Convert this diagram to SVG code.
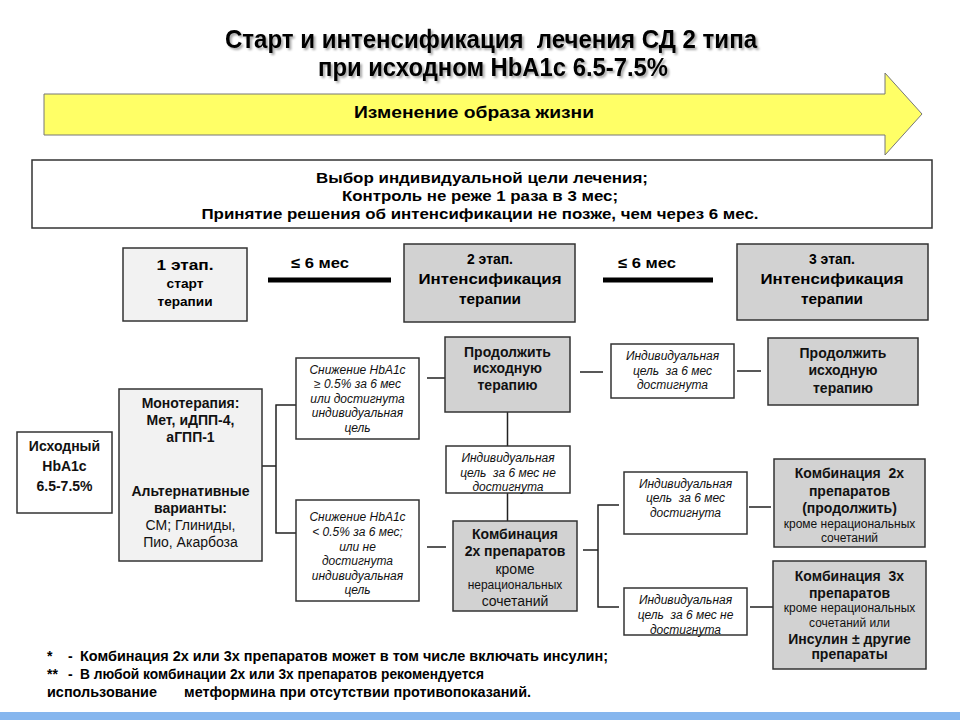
<svg xmlns="http://www.w3.org/2000/svg" width="960" height="720" viewBox="0 0 960 720">
<defs>
<filter id="sh" x="-5%" y="-20%" width="110%" height="150%">
<feDropShadow dx="2" dy="2" stdDeviation="1" flood-color="#000" flood-opacity="0.35"/>
</filter>
<style>
.n{font-family:"Liberation Sans Narrow","Liberation Sans",Arial,sans-serif;font-weight:bold;fill:#000;text-anchor:middle}
.f{font-family:"Liberation Sans",Arial,sans-serif;font-weight:bold;font-size:14px;fill:#000;text-anchor:start}
.b{font-family:"Liberation Sans",Arial,sans-serif;font-weight:bold;font-size:14px;fill:#111;text-anchor:middle}
.r{font-family:"Liberation Sans",Arial,sans-serif;font-size:14px;fill:#111;text-anchor:middle}
.s{font-family:"Liberation Sans",Arial,sans-serif;font-size:12px;fill:#111;text-anchor:middle}
.i{font-family:"Liberation Sans",Arial,sans-serif;font-style:italic;font-size:12px;fill:#111;text-anchor:middle}
.box{stroke:#333;stroke-width:1.5}
.w{fill:#fff}
.g{fill:#d2d2d2}
.l{fill:#f2f2f2}
.c{fill:none;stroke:#222;stroke-width:1.5}
.t{fill:none;stroke:#000;stroke-width:5}
</style>
</defs>
<rect width="960" height="720" fill="#fff"/>

<g id="title" filter="url(#sh)">
<text class="n" x="491" y="48" font-size="25" textLength="532" lengthAdjust="spacingAndGlyphs" xml:space="preserve">Старт и интенсификация  лечения СД 2 типа</text>
<text class="n" x="493" y="76" font-size="25" textLength="350" lengthAdjust="spacingAndGlyphs">при исходном HbA1c 6.5-7.5%</text>
</g>

<g id="lifestyle">
<polygon points="44,94 885,94 885,73 922,114 885,155 885,135 44,135" fill="#ffff66" stroke="#777" stroke-width="1"/>
<text class="n" x="474" y="118" font-size="16" textLength="240" lengthAdjust="spacingAndGlyphs">Изменение образа жизни</text>
</g>

<g id="goal">
<rect class="box w" x="32" y="160" width="900" height="68"/>
<text class="n" x="482" y="183" font-size="14" textLength="332" lengthAdjust="spacingAndGlyphs">Выбор индивидуальной цели лечения;</text>
<text class="n" x="480" y="201" font-size="14" textLength="276" lengthAdjust="spacingAndGlyphs">Контроль не реже 1 раза в 3 мес;</text>
<text class="n" x="480" y="219" font-size="14" textLength="557" lengthAdjust="spacingAndGlyphs">Принятие решения об интенсификации не позже, чем через 6 мес.</text>
</g>

<g id="stage1">
<rect class="box l" x="123" y="248" width="124" height="73"/>
<text class="n" x="185" y="270" font-size="15" textLength="57" lengthAdjust="spacingAndGlyphs">1 этап.</text>
<text class="n" x="185" y="288" font-size="13" textLength="37" lengthAdjust="spacingAndGlyphs">старт</text>
<text class="n" x="185" y="306" font-size="13" textLength="55" lengthAdjust="spacingAndGlyphs">терапии</text>
</g>

<g id="stage2">
<rect class="box g" x="404" y="244" width="171" height="78"/>
<text class="n" x="490" y="264" font-size="15" textLength="46" lengthAdjust="spacingAndGlyphs">2 этап.</text>
<text class="n" x="490" y="284" font-size="15" textLength="143" lengthAdjust="spacingAndGlyphs">Интенсификация</text>
<text class="n" x="490" y="304" font-size="15" textLength="62" lengthAdjust="spacingAndGlyphs">терапии</text>
</g>

<g id="stage3">
<rect class="box g" x="737" y="244" width="191" height="76"/>
<text class="n" x="832" y="264" font-size="15" textLength="46" lengthAdjust="spacingAndGlyphs">3 этап.</text>
<text class="n" x="832" y="284" font-size="15" textLength="143" lengthAdjust="spacingAndGlyphs">Интенсификация</text>
<text class="n" x="832" y="304" font-size="15" textLength="62" lengthAdjust="spacingAndGlyphs">терапии</text>
</g>

<g id="timing">
<text class="n" x="320" y="268" font-size="15" textLength="58" lengthAdjust="spacingAndGlyphs">≤ 6 мес</text>
<text class="n" x="647" y="268" font-size="15" textLength="58" lengthAdjust="spacingAndGlyphs">≤ 6 мес</text>
<line class="t" x1="268" y1="280" x2="391" y2="280"/>
<line class="t" x1="603" y1="280" x2="713" y2="280"/>
</g>

<g id="connectors">
<path class="c" d="M262,466 H276 M276,405 V533 M275.3,405 H296 M275.3,533 H296"/>
<path class="c" d="M427,378 H446 M427,547 H446"/>
<path class="c" d="M507.5,412 V446 M507.5,493 V521"/>
<path class="c" d="M583,550 H598 M598,505 V607 M597.3,505 H619 M597.3,607 H619"/>
<path class="c" d="M580,372 H603 M737,371 H761"/>
<path class="c" d="M749,507 H771 M750,607 H773"/>
</g>

<g id="baseline">
<rect class="box w" x="17" y="432" width="95" height="81"/>
<text class="b" x="64.5" y="451">Исходный</text>
<text class="b" x="64.5" y="471" font-size="17">HbA1c</text>
<text class="b" x="64.5" y="491" font-size="16">6.5-7.5%</text>
</g>

<g id="mono">
<rect class="box l" x="119" y="389" width="143" height="172"/>
<text class="b" x="190.5" y="408">Монотерапия:</text>
<text class="b" x="190.5" y="425">Мет, иДПП-4,</text>
<text class="b" x="190.5" y="442">аГПП-1</text>
<text class="b" x="190.5" y="496">Альтернативные</text>
<text class="b" x="190.5" y="513">варианты:</text>
<text class="r" x="190.5" y="530">СМ; Глиниды,</text>
<text class="r" x="190.5" y="547">Пио, Акарбоза</text>
</g>

<g id="dec-yes">
<rect class="box w" x="296" y="358" width="123" height="81"/>
<text class="i" x="357.5" y="374">Снижение HbA1c</text>
<text class="i" x="357.5" y="388">≥ 0.5% за 6 мес</text>
<text class="i" x="357.5" y="403">или достигнута</text>
<text class="i" x="357.5" y="417">индивидуальная</text>
<text class="i" x="357.5" y="432">цель</text>
</g>

<g id="dec-no">
<rect class="box w" x="296" y="500" width="123" height="101"/>
<text class="i" x="357.5" y="521">Снижение HbA1c</text>
<text class="i" x="357.5" y="536">&lt; 0.5% за 6 мес;</text>
<text class="i" x="357.5" y="551">или не</text>
<text class="i" x="357.5" y="565">достигнута</text>
<text class="i" x="357.5" y="580">индивидуальная</text>
<text class="i" x="357.5" y="594">цель</text>
</g>

<g id="continue1">
<rect class="box g" x="445" y="337" width="125" height="75"/>
<text class="b" x="507.5" y="357">Продолжить</text>
<text class="b" x="507.5" y="373">исходную</text>
<text class="b" x="507.5" y="390">терапию</text>
</g>

<g id="notreached1">
<rect class="box w" x="446" y="446" width="124" height="47"/>
<text class="i" x="508" y="462">Индивидуальная</text>
<text class="i" x="508" y="477" xml:space="preserve">цель  за 6 мес не</text>
<text class="i" x="508" y="491">достигнута</text>
</g>

<g id="combo2">
<rect class="box g" x="453" y="521" width="124" height="90"/>
<text class="b" x="515" y="539">Комбинация</text>
<text class="b" x="515" y="556">2х препаратов</text>
<text class="r" x="515" y="574">кроме</text>
<text class="s" x="515" y="589">нерациональных</text>
<text class="r" x="515" y="606">сочетаний</text>
</g>

<g id="reached2">
<rect class="box w" x="611" y="344" width="123" height="54"/>
<text class="i" x="672.5" y="360">Индивидуальная</text>
<text class="i" x="672.5" y="375" xml:space="preserve">цель  за 6 мес</text>
<text class="i" x="672.5" y="389">достигнута</text>
</g>

<g id="continue2">
<rect class="box g" x="768" y="338" width="150" height="67"/>
<text class="b" x="843" y="358">Продолжить</text>
<text class="b" x="843" y="375">исходную</text>
<text class="b" x="843" y="393">терапию</text>
</g>

<g id="reached3">
<rect class="box w" x="624" y="472" width="123" height="62"/>
<text class="i" x="685.5" y="488">Индивидуальная</text>
<text class="i" x="685.5" y="502" xml:space="preserve">цель  за 6 мес</text>
<text class="i" x="685.5" y="517">достигнута</text>
</g>

<g id="combo2cont">
<rect class="box g" x="774" y="459" width="151" height="88"/>
<text class="b" x="849.5" y="478" xml:space="preserve">Комбинация  2х</text>
<text class="b" x="849.5" y="496">препаратов</text>
<text class="b" x="849.5" y="513">(продолжить)</text>
<text class="s" x="849.5" y="528">кроме нерациональных</text>
<text class="s" x="849.5" y="542">сочетаний</text>
</g>

<g id="notreached3">
<rect class="box w" x="624" y="588" width="123" height="47"/>
<text class="i" x="685.5" y="604">Индивидуальная</text>
<text class="i" x="685.5" y="619" xml:space="preserve">цель  за 6 мес не</text>
<text class="i" x="685.5" y="634">достигнута</text>
</g>

<g id="combo3">
<rect class="box g" x="773" y="561" width="153" height="108"/>
<text class="b" x="849.5" y="581" xml:space="preserve">Комбинация  3х</text>
<text class="b" x="849.5" y="598">препаратов</text>
<text class="s" x="849.5" y="612">кроме нерациональных</text>
<text class="s" x="849.5" y="627">сочетаний или</text>
<text class="b" x="849.5" y="644">Инсулин ± другие</text>
<text class="b" x="849.5" y="659">препараты</text>
</g>

<g id="notes">
<text class="f" x="47" y="661">*</text>
<text class="f" x="68" y="661">-</text>
<text class="f" x="80" y="661" textLength="528" lengthAdjust="spacingAndGlyphs">Комбинация 2х или 3х препаратов может в том числе включать инсулин;</text>
<text class="f" x="47" y="679">**</text>
<text class="f" x="68" y="679">-</text>
<text class="f" x="80" y="679" textLength="404" lengthAdjust="spacingAndGlyphs">В любой комбинации 2х или 3х препаратов рекомендуется</text>
<text class="f" x="47" y="697" textLength="110" lengthAdjust="spacingAndGlyphs">использование</text>
<text class="f" x="184" y="697" textLength="347" lengthAdjust="spacingAndGlyphs">метформина при отсутствии противопоказаний.</text>
</g>

<rect x="0" y="712" width="960" height="8" fill="#86b6ee"/>
</svg>
